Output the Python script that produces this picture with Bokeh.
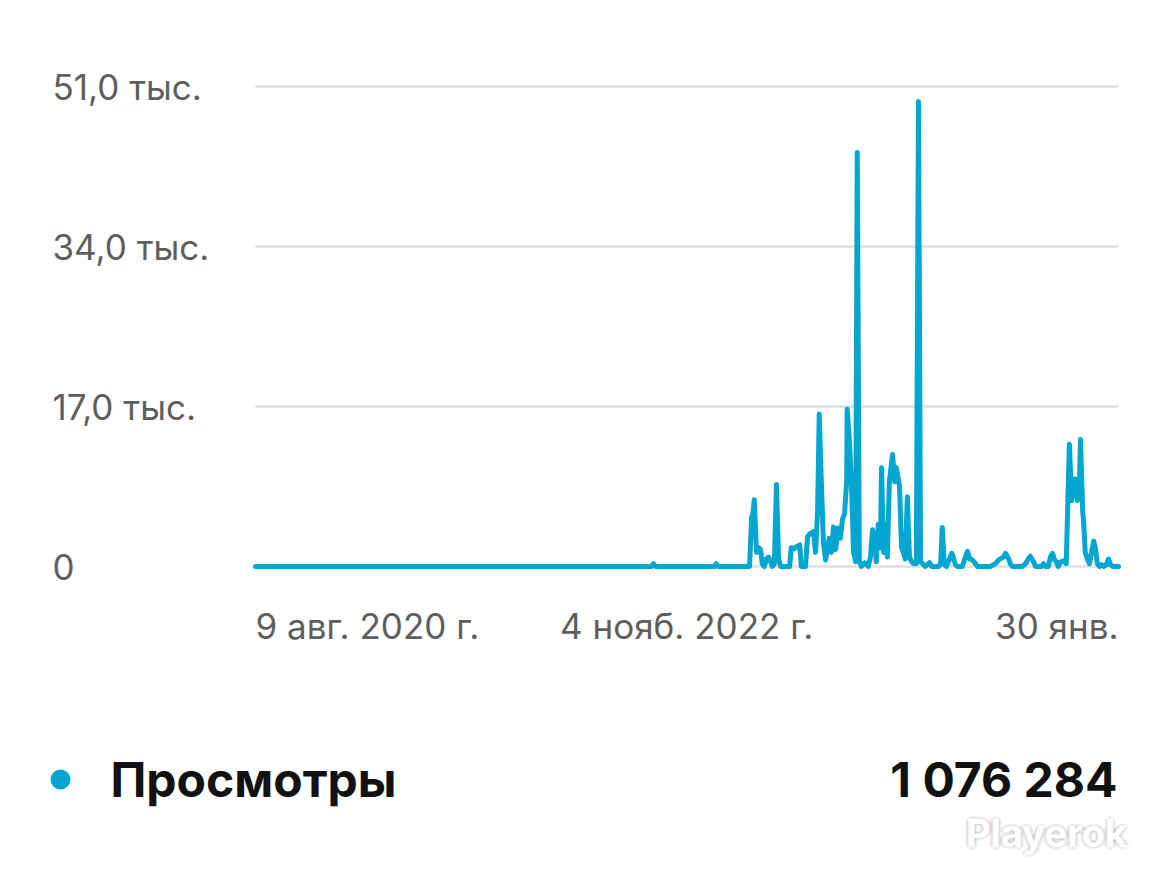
import pandas as pd
from bokeh.plotting import figure
from bokeh.models import Range1d, ColumnDataSource
from bokeh.embed import file_html
from bokeh.resources import INLINE
from bokeh.core.properties import value

# ---------------- data ----------------
dates = [
    "2020-08-09", "2022-08-29", "2022-09-02", "2022-09-06", "2022-12-27", "2022-12-30", "2023-01-03",
    "2023-03-03", "2023-03-07", "2023-03-09", "2023-03-12", "2023-03-16", "2023-03-20", "2023-03-24",
    "2023-03-27", "2023-03-31", "2023-04-04", "2023-04-08", "2023-04-12", "2023-04-15", "2023-04-19",
    "2023-04-23", "2023-04-27", "2023-05-01", "2023-05-18", "2023-05-21", "2023-05-27", "2023-05-31",
    "2023-06-06", "2023-06-09", "2023-06-17", "2023-06-21", "2023-06-26", "2023-07-02", "2023-07-06",
    "2023-07-10", "2023-07-13", "2023-07-17", "2023-07-21", "2023-07-25", "2023-07-29", "2023-08-01",
    "2023-08-05", "2023-08-09", "2023-08-13", "2023-08-18", "2023-08-22", "2023-08-26", "2023-08-30",
    "2023-09-03", "2023-09-04", "2023-09-08", "2023-09-12", "2023-09-16", "2023-09-20", "2023-09-23",
    "2023-09-27", "2023-10-01", "2023-10-07", "2023-10-10", "2023-10-14", "2023-10-18", "2023-10-22",
    "2023-10-26", "2023-10-29", "2023-11-02", "2023-11-06", "2023-11-08", "2023-11-12", "2023-11-16",
    "2023-11-19", "2023-11-23", "2023-11-29", "2023-12-03", "2023-12-06", "2023-12-12", "2023-12-16",
    "2023-12-20", "2023-12-23", "2023-12-27", "2023-12-31", "2024-01-04", "2024-01-08", "2024-01-13",
    "2024-01-17", "2024-01-21", "2024-01-25", "2024-01-30", "2024-02-07", "2024-02-11", "2024-02-24",
    "2024-02-28", "2024-03-02", "2024-03-06", "2024-03-10", "2024-03-16", "2024-03-20", "2024-03-23",
    "2024-03-27", "2024-03-31", "2024-04-09", "2024-04-15", "2024-04-19", "2024-04-23", "2024-04-28",
    "2024-05-04", "2024-05-08", "2024-06-01", "2024-06-11", "2024-06-17", "2024-06-26", "2024-06-30",
    "2024-07-06", "2024-07-09", "2024-07-13", "2024-08-01", "2024-08-07", "2024-08-12", "2024-08-16",
    "2024-08-22", "2024-08-26", "2024-09-06", "2024-09-10", "2024-09-14", "2024-09-19", "2024-09-23",
    "2024-09-27", "2024-10-01", "2024-10-04", "2024-10-08", "2024-10-12", "2024-10-18", "2024-10-23",
    "2024-10-27", "2024-10-29", "2024-11-02", "2024-11-06", "2024-11-09", "2024-11-13", "2024-11-17",
    "2024-11-19", "2024-11-23", "2024-11-25", "2024-11-28", "2024-12-02", "2024-12-06", "2024-12-10",
    "2024-12-14", "2024-12-17", "2024-12-21", "2024-12-25", "2024-12-29", "2025-01-02", "2025-01-07",
    "2025-01-11", "2025-01-15", "2025-01-19", "2025-01-30",
]
views = [
    0, 0, 300, 0, 0, 300, 0,
    0, 5300, 5500, 7100, 1500, 2000, 1800,
    300, 0, 800, 1000, 500, 0, 300,
    8700, 800, 0, 0, 2000, 1900, 2100,
    2300, 0, 0, 3200, 3500, 3700, 1500,
    6000, 16200, 9000, 2500, 700, 2000, 3000,
    1500, 4200, 1800, 4100, 3000, 5000, 5600,
    9000, 16700, 13500, 9000, 1500, 500, 44000,
    500, 0, 400, 300, 0, 1000, 3900,
    2800, 500, 4500, 2000, 10500, 1500, 4500,
    1000, 9100, 11900, 9000, 10500, 8600, 2000,
    1400, 800, 7400, 1000, 500, 300, 300,
    49400, 500, 300, 0, 400, 0, 0,
    300, 4150, 200, 0, 800, 1400, 1000,
    200, 0, 0, 1000, 1600, 800, 700,
    300, 0, 0, 300, 700, 1000, 1400,
    800, 300, 0, 0, 300, 800, 1100,
    500, 0, 0, 300, 0, 0, 1000,
    1400, 700, 500, 0, 500, 600, 300,
    9000, 13000, 7000, 9000, 9300, 7000, 9000,
    13500, 6000, 4700, 1500, 800, 300, 1500,
    2700, 2000, 300, 0, 200, 0, 200,
    800, 200, 0, 0,
]

y_ticks = [0, 17000, 34000, 51000]
y_tick_labels = ["0", "17,0 тыс.", "34,0 тыс.", "51,0 тыс."]
x_tick_dates = ["2020-08-09", "2022-11-04", "2025-01-30"]
x_tick_labels = ["9 авг. 2020 г.", "4 нояб. 2022 г.", "30 янв."]
x_tick_aligns = ["left", "center", "right"]
series_name = "Просмотры"
series_total = "1 076 284"
watermark = "Playerok"

# ---------------- layout / styles ----------------
W, H = 1162, 883
PLOT_L, PLOT_R = 255, 1118      # pixel columns of first / last date
Y0_PX, YTOP_PX = 566, 86         # pixel rows of 0 and of the top tick
BLUE = "#03a6d0"
GREY_TXT = "#5e5e5e"
GRID = "#e4e4e4"
FONT = "Inter"

d_first = pd.Timestamp(x_tick_dates[0])
d_last = pd.Timestamp(x_tick_dates[-1])
per_px = (d_last - d_first) / (PLOT_R - PLOT_L)
units_per_px = (y_ticks[-1] - y_ticks[0]) / (Y0_PX - YTOP_PX)

p = figure(
    width=W, height=H, x_axis_type="datetime",
    x_range=Range1d(d_first - PLOT_L * per_px, d_last + (W - PLOT_R) * per_px),
    y_range=Range1d(-(H - Y0_PX) * units_per_px, Y0_PX * units_per_px),
    output_backend="svg", toolbar_location=None,
    min_border_left=0, min_border_right=0, min_border_top=0, min_border_bottom=0,
)
p.extra_x_ranges["px"] = Range1d(0, W)
p.extra_y_ranges["px"] = Range1d(H, 0)
p.axis.visible = False
p.grid.visible = False
p.outline_line_color = None
p.background_fill_color = "white"
p.border_fill_color = "white"

# horizontal grid lines spanning the date range
p.segment(x0=[d_first] * len(y_ticks), x1=[d_last] * len(y_ticks), y0=y_ticks, y1=y_ticks,
          line_color=GRID, line_width=3)

src = ColumnDataSource(dict(date=pd.to_datetime(dates), views=views))
p.line(x="date", y="views", source=src, line_color=BLUE, line_width=5,
       line_join="round", line_cap="round")

# y tick labels (left aligned at a fixed column)
p.text(x=[52] * len(y_ticks), y=y_ticks, text=y_tick_labels, x_range_name="px",
       text_font=value(FONT), text_font_size="35px", text_color=GREY_TXT,
       text_align="left", text_baseline="middle")

# x tick labels
for d, lab, al in zip(x_tick_dates, x_tick_labels, x_tick_aligns):
    p.text(x=[pd.Timestamp(d)], y=[625], text=[lab], y_range_name="px",
           text_font=value(FONT), text_font_size="35px", text_color=GREY_TXT,
           text_align=al, text_baseline="middle")

# legend row
p.scatter(x=[60], y=[779], size=20, fill_color=BLUE, line_color=None,
          x_range_name="px", y_range_name="px")
p.text(x=[110], y=[779], text=[series_name], x_range_name="px", y_range_name="px",
       text_font=value(FONT), text_font_style="bold", text_font_size="48px",
       text_color="#111111", text_baseline="middle", text_align="left")
p.text(x=[1117], y=[779], text=[series_total], x_range_name="px", y_range_name="px",
       text_font=value(FONT), text_font_style="bold", text_font_size="48px",
       text_color="#111111", text_baseline="middle", text_align="right")

# watermark with a soft grey glow
glow_dx = [-3, 3, 0, 0, -2, 2, -2, 2, -4, 4]
glow_dy = [0, 0, -3, 3, -2, 2, 2, -2, 0, 0]
p.text(x=[1046 + dx for dx in glow_dx], y=[832 + dy for dy in glow_dy],
       text=[watermark] * len(glow_dx), x_range_name="px", y_range_name="px",
       text_font=value(FONT), text_font_style="bold", text_font_size="38px",
       text_color="#000000", text_alpha=0.03, text_align="center", text_baseline="middle")
p.text(x=[1046], y=[832], text=[watermark], x_range_name="px", y_range_name="px",
       text_font=value(FONT), text_font_style="bold", text_font_size="38px",
       text_color="white", text_align="center", text_baseline="middle")

open("out.html", "w").write(file_html(p, INLINE))
